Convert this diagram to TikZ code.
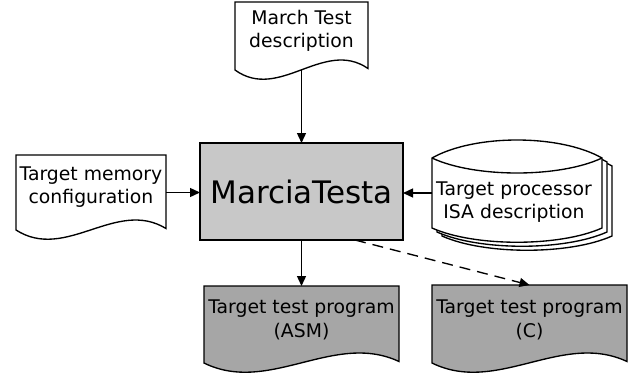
\documentclass[tikz,border=0pt]{standalone}
\usepackage{fontspec}
\setmainfont{DejaVu Sans}
\usetikzlibrary{arrows.meta,calc}
\definecolor{boxgray}{RGB}{200,200,200}
\definecolor{outgray}{RGB}{166,166,166}
\newcommand\lbl{\fontsize{18.8}{23.5}\selectfont}
\newcommand\isacyl[2]{%
  \draw[fill=white] ([shift={(#1,#2)}]isa.north west)
    .. controls ([shift={(#1+42.5,#2-24)}]isa.north west) and ([shift={(#1+127.5,#2-24)}]isa.north west)
    .. ([shift={(#1,#2)}]isa.north east)
    -- ([shift={(#1,#2)}]isa.south east)
    .. controls ([shift={(#1-42.5,#2+19)}]isa.south east) and ([shift={(#1-127.5,#2+19)}]isa.south east)
    .. ([shift={(#1,#2)}]isa.south west) -- cycle;}
\begin{document}
\begin{tikzpicture}[x=1pt,y=-1pt,line width=1.35pt,
  shapebox/.style={rectangle,draw=none,inner sep=0pt,outer sep=0pt,anchor=north west},
  docout/.style={insert path={(#1.north west) -- (#1.north east) -- ([yshift=1.5pt]#1.south east)
     .. controls ($(#1.south west)!2/3!(#1.south east)+(0,-32)$) and ($(#1.south west)!1/3!(#1.south east)+(0,32)$)
     .. (#1.south west) -- cycle}},
  arr/.style={-{Triangle[length=10pt,width=9pt]}},
  txt/.style={font=\lbl,align=center,inner sep=0pt}]
\useasboundingbox (0,0) rectangle (644,375);
\fill[white] (0,0) rectangle (644,375);
% shape nodes
\node[shapebox,minimum width=133pt,minimum height=68pt] (march) at (235,2) {};
\node[shapebox,minimum width=150pt,minimum height=75pt] (mem) at (16,155) {};
\node[shapebox,minimum width=203pt,minimum height=97pt] (box) at (200,143) {};
\node[shapebox,minimum width=170pt,minimum height=70pt] (isa) at (432,158) {};
\node[shapebox,minimum width=195pt,minimum height=77pt] (asm) at (204,286) {};
\node[shapebox,minimum width=195pt,minimum height=78pt] (cprog) at (432,285) {};
% outlines
\draw[fill=white] [docout=march];
\draw[fill=white] [docout=mem];
\draw[fill=boxgray] (box.north west) rectangle (box.south east);
\isacyl{10}{8}
\isacyl{5}{4}
\isacyl{0}{0}
\draw (isa.north west) .. controls ([shift={(42.5,20)}]isa.north west) and ([shift={(127.5,20)}]isa.north west) .. (isa.north east);
\draw[fill=outgray] [docout=asm];
\draw[fill=outgray] [docout=cprog];
% texts
\node[txt] (marchtxt) at ([yshift=5pt]march.center) {March Test\\description};
\node[txt] (memtxt) at ([yshift=5.5pt]mem.center) {Target memory\\configuration};
\node[inner sep=0pt,font=\fontsize{31}{36}\selectfont] (boxtxt) at (box.center) {MarciaTesta};
\node[txt] (isatxt) at ([xshift=-3pt,yshift=-9pt]isa.center) {Target processor\\ISA description};
\node[txt] (asmtxt) at ([yshift=4.5pt]asm.center) {Target test program\\(ASM)};
\node[txt] (ctxt) at ([yshift=4pt]cprog.center) {Target test program\\(C)};
% connectors
\draw[arr] (march.south) -- (box.north);
\draw[arr] (mem.east) -- (mem.east -| box.west);
\draw[arr] (isa.west) -- (isa.west -| box.east);
\draw[arr] (box.south) -- (asm.north);
\draw[arr,dash pattern=on 11pt off 7pt] ([xshift=53.5pt]box.south) -- (cprog.north);
\end{tikzpicture}
\end{document}
